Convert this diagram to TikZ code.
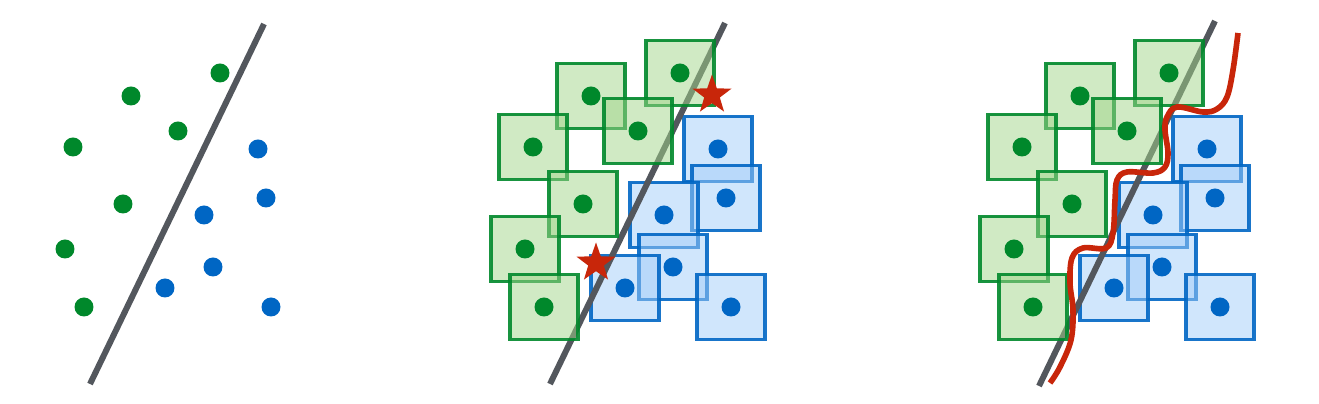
\documentclass[tikz,border=0pt]{standalone}
\usepackage{tikz}
\usetikzlibrary{shapes.geometric}
\definecolor{Leaf}{HTML}{00882B}
\definecolor{Sky}{HTML}{0066C4}
\definecolor{Slate}{HTML}{53575D}
\definecolor{Brick}{HTML}{C8260A}
\definecolor{LeafFill}{HTML}{A1D58A}
\definecolor{SkyFill}{HTML}{A2CDF9}

\begin{document}
\begin{tikzpicture}[x=0.02cm,y=-0.02cm,
    gdot/.style={circle,fill=Leaf,inner sep=0pt,minimum size=0.38cm},
    bdot/.style={circle,fill=Sky,inner sep=0pt,minimum size=0.38cm},
    gbox/.style={draw=Leaf,draw opacity=0.9,fill=LeafFill,fill opacity=0.5,line width=2pt,inner sep=0pt,minimum width=1.36cm,minimum height=1.3cm},
    bbox/.style={draw=Sky,draw opacity=0.9,fill=SkyFill,fill opacity=0.5,line width=2pt,inner sep=0pt,minimum width=1.36cm,minimum height=1.3cm},
    sep/.style={draw=Slate,line width=3.4pt},
    flip/.style={star,star points=5,star point ratio=2.5,fill=Brick,inner sep=0pt,minimum size=0.82cm},
    wave/.style={draw=Brick,line width=3.2pt}]
  \useasboundingbox (0,0) rectangle (1319,404);

  % blue boxes under the separating line
  \foreach \p/\dx in {2/460,3/949}{
    \foreach \i/\x/\y in {1/258/149,2/266/198,3/204/215,4/213/267,5/165/288,6/271/307}{
      \node[bbox] (bb\p\i) at (\x+\dx,\y) {};
    }
  }

  % separating lines
  \foreach \p/\xa/\ya/\xb/\yb in {1/264/24/90/384,2/725/23/550/384,3/1215/21/1039/386}{
    \coordinate (top\p) at (\xa,\ya);
    \coordinate (bot\p) at (\xb,\yb);
    \draw[sep] (top\p) -- (bot\p);
  }

  % green boxes
  \foreach \p/\dx in {2/460,3/949}{
    \foreach \i/\x/\y in {1/220/73,2/131/96,3/178/131,4/73/147,5/123/204,6/65/249,7/84/307}{
      \node[gbox] (gb\p\i) at (\x+\dx,\y) {};
    }
  }

  % points
  \foreach \p/\dx in {1/0,2/460,3/949}{
    \foreach \i/\x/\y in {1/220/73,2/131/96,3/178/131,4/73/147,5/123/204,6/65/249,7/84/307}
      \node[gdot] (g\p\i) at (\x+\dx,\y) {};
    \foreach \i/\x/\y in {1/258/149,2/266/198,3/204/215,4/213/267,5/165/288,6/271/307}
      \node[bdot] (b\p\i) at (\x+\dx,\y) {};
  }

  % adversarial points
  \node[flip] (s1) at (712,95) {};
  \node[flip] (s2) at (596,263) {};

  % robust boundary
  \draw[wave] plot[smooth,tension=0.6] coordinates {
    (1050,383) (1060,367) (1071,340) (1073,310) (1070,283) (1072,258)
    (1083,248) (1106,248) (1113,233) (1115,200) (1117,180) (1127,172)
    (1153,173) (1165,167) (1168,153) (1165,130) (1167,117) (1177,107)
    (1203,112) (1217,109) (1227,97) (1233,70) (1238,33)};
\end{tikzpicture}
\end{document}
